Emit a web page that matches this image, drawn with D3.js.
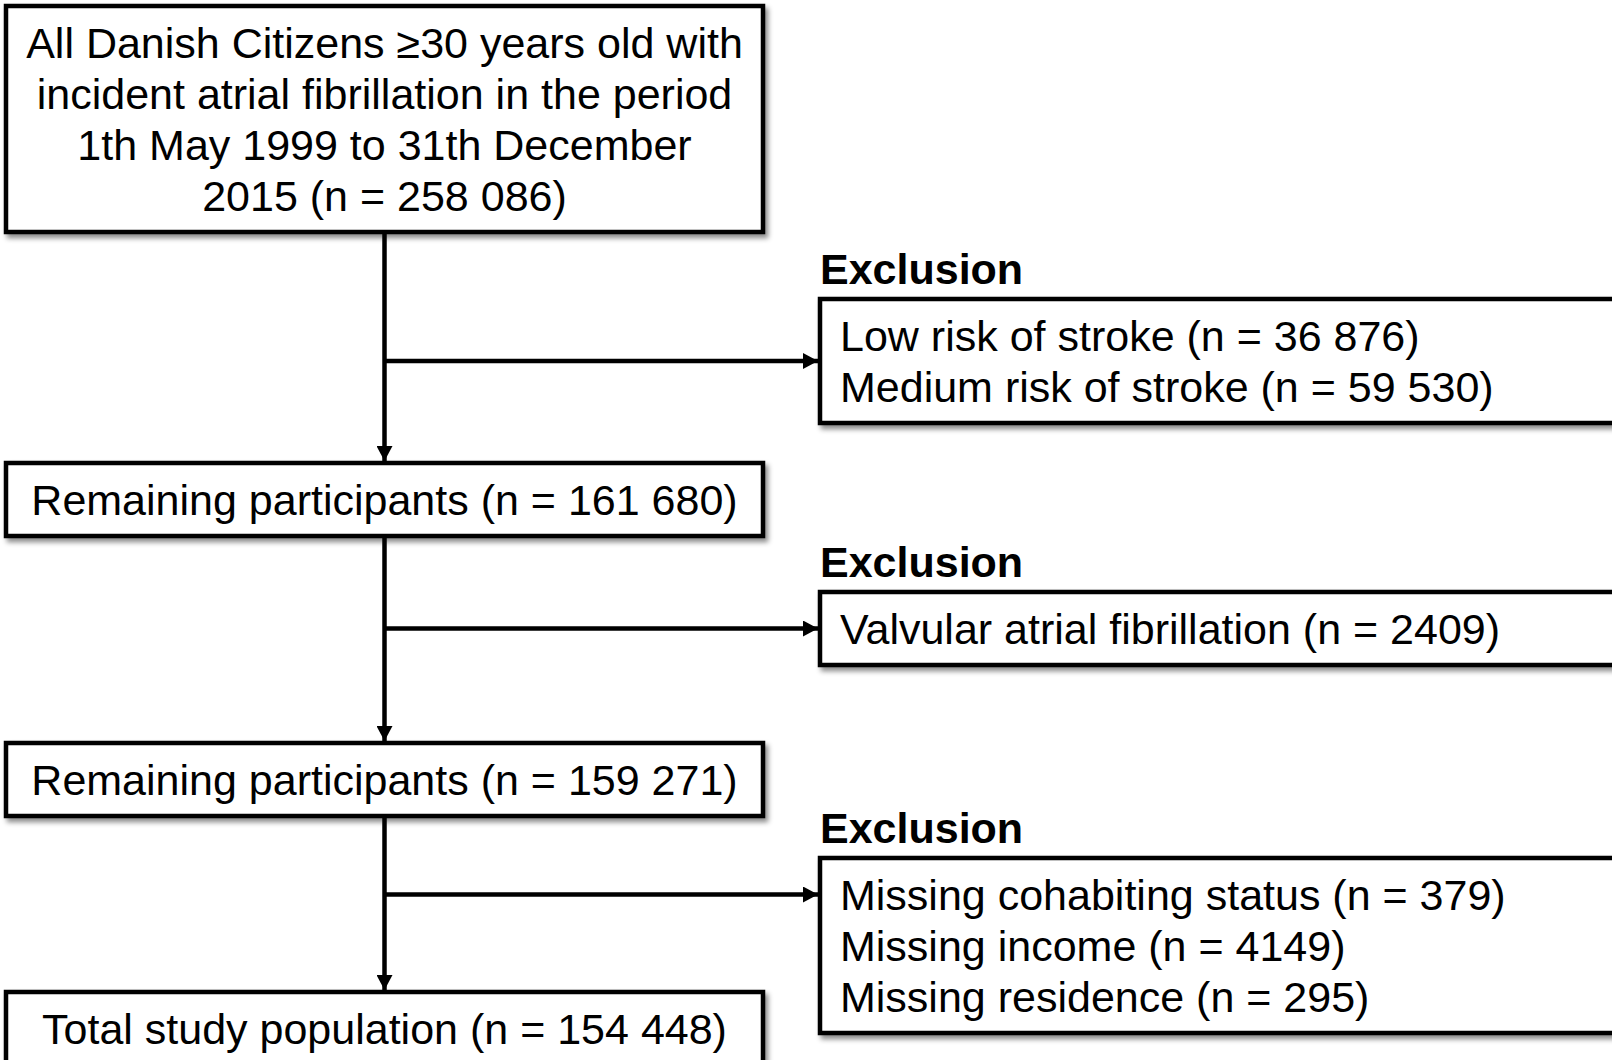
<!DOCTYPE html>
<html>
<head>
<meta charset="utf-8">
<script src="https://cdn.jsdelivr.net/npm/d3@7"></script>
<style>
  html, body { margin: 0; padding: 0; background: #fff; }
  svg { display: block; }
</style>
</head>
<body>
<div id="chart"></div>
<script>
// flow steps (left column) and exclusions (right column)
const mainSteps = [
    ["All Danish Citizens \u226530 years old with", "incident atrial fibrillation in the period", "1th May 1999 to 31th December", "2015 (n = 258 086)"],
    ["Remaining participants (n = 161 680)"],
    ["Remaining participants (n = 159 271)"],
    ["Total study population (n = 154 448)"]
];
const exclusionTitle = "Exclusion";
const exclusions = [
    ["Low risk of stroke (n = 36 876)", "Medium risk of stroke (n = 59 530)"],
    ["Valvular atrial fibrillation (n = 2409)"],
    ["Missing cohabiting status (n = 379)", "Missing income (n = 4149)", "Missing residence (n = 295)"]
];
// which line of the exclusion box the branch arrow points at (-1 = middle)
const branchLine = [-1, -1, 0];

const width = 1612, height = 1060;
const fs = 43, lineH = 51, pad = 22;
const mainLeft = 6, mainRight = 763;
const exLeft = 820, exRight = 1640;
const mainTops = [6, 463, 743, 992];
const exTops = [299, 592, 858];
const trunkX = (mainLeft + mainRight) / 2;
const sw = 4.5;

const boxH = n => n * lineH + pad;

const svg = d3.select("#chart").append("svg")
    .attr("width", width)
    .attr("height", height)
    .style("font-family", "'Liberation Sans', Arial, Helvetica, sans-serif");

let defs = svg.append("defs");
let shadow = defs.append("filter").attr("id", "shadow")
    .attr("x", "-5%").attr("y", "-10%").attr("width", "115%").attr("height", "130%");
shadow.append("feDropShadow")
    .attr("dx", 3).attr("dy", 4).attr("stdDeviation", 2.5)
    .attr("flood-color", "#000").attr("flood-opacity", 0.45);

defs.append("marker")
    .attr("id", "arrow")
    .attr("viewBox", "0 0 15 16")
    .attr("refX", 15).attr("refY", 8)
    .attr("markerWidth", 15).attr("markerHeight", 16)
    .attr("markerUnits", "userSpaceOnUse")
    .attr("orient", "auto")
    .append("path")
    .attr("d", "M0,0 L15,8 L0,16 Z")
    .attr("fill", "#000");

// main boxes
let mainData = mainSteps.map((lines, i) => ({
    lines, x: mainLeft, y: mainTops[i], w: mainRight - mainLeft, h: boxH(lines.length)
}));
let exData = exclusions.map((lines, i) => {
    let h = boxH(lines.length);
    let y = exTops[i];
    let cy = y + h / 2;
    let by = branchLine[i] < 0 ? cy : cy + (branchLine[i] - (lines.length - 1) / 2) * lineH;
    return {lines, x: exLeft, y, w: exRight - exLeft, h, branchY: by};
});

// connectors
let conn = svg.append("g").attr("class", "connectors")
    .attr("stroke", "#000").attr("stroke-width", sw).attr("fill", "none");

mainData.slice(0, -1).forEach((d, i) => {
    conn.append("line")
        .attr("x1", trunkX).attr("x2", trunkX)
        .attr("y1", d.y + d.h).attr("y2", mainData[i + 1].y - 2)
        .attr("marker-end", "url(#arrow)");
    conn.append("line")
        .attr("x1", trunkX).attr("x2", exData[i].x - 2)
        .attr("y1", exData[i].branchY).attr("y2", exData[i].branchY)
        .attr("marker-end", "url(#arrow)");
});

function drawBox(g, d, anchor) {
    g.append("rect")
        .attr("x", d.x).attr("y", d.y)
        .attr("width", d.w).attr("height", d.h)
        .attr("fill", "#fff")
        .attr("stroke", "#000")
        .attr("stroke-width", sw)
        .attr("filter", "url(#shadow)");
    let cy = d.y + d.h / 2;
    g.selectAll("text.line")
        .data(d.lines)
        .join("text")
        .attr("class", "line")
        .attr("x", anchor === "middle" ? d.x + d.w / 2 : d.x + 20)
        .attr("y", (t, j) => cy + (j - (d.lines.length - 1) / 2) * lineH + fs * 0.36)
        .attr("text-anchor", anchor)
        .attr("font-size", fs)
        .attr("fill", "#000")
        .text(t => t);
}

let mainG = svg.append("g").attr("class", "main-boxes");
mainData.forEach(d => drawBox(mainG.append("g"), d, "middle"));

let exG = svg.append("g").attr("class", "exclusion-boxes");
exData.forEach(d => {
    let g = exG.append("g");
    g.append("text")
        .attr("x", d.x)
        .attr("y", d.y - 30 + fs * 0.36)
        .attr("font-size", fs)
        .attr("font-weight", "bold")
        .text(exclusionTitle);
    drawBox(g, d, "start");
});
</script>
</body>
</html>
